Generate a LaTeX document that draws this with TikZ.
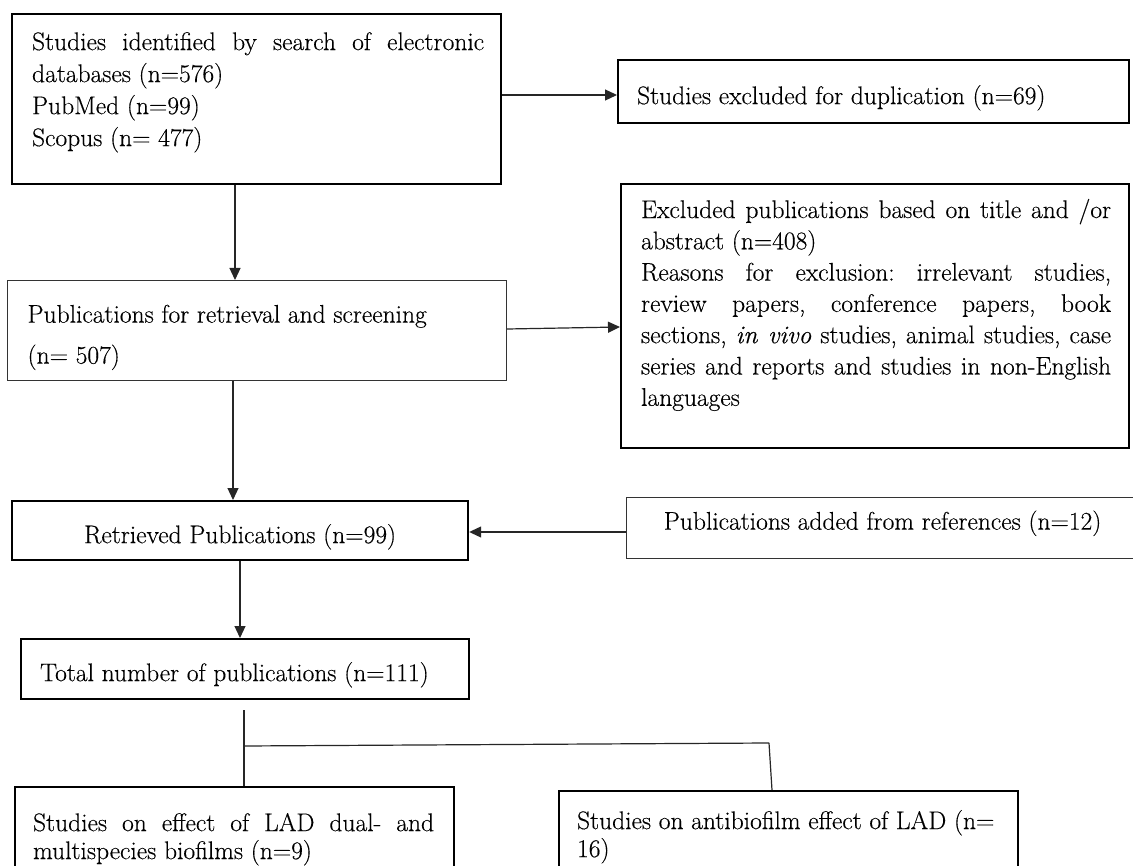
\documentclass[tikz,border=0pt]{standalone}
\usepackage{fontspec}
\setmainfont{Latin Modern Roman}[FakeBold=0.3]
\usetikzlibrary{arrows.meta}
% #1 width, #2 height, #3 leftskip, #4 rightskip, #5 top space, #6 text, #7 baselineskip
\newcommand{\bxtext}[7]{\parbox[c][#2][t]{#1}{\fontsize{25.5pt}{#7}\selectfont\frenchspacing\parindent=0pt\leftskip=#3\relax\rightskip=#4\relax\vspace*{#5}\strut #6\par}}
\begin{document}
\begin{tikzpicture}[x=1pt,y=-1pt,
  boxthick/.style={draw=black,line width=2.2pt,inner sep=0pt,anchor=north west},
  boxthin/.style={draw=black!80,line width=1.2pt,inner sep=0pt,anchor=north west},
  conn/.style={draw=black!85,line width=1.2pt},
  arr/.style={conn,-{Triangle[width=11pt,length=12pt]}}]
\useasboundingbox (0,0) rectangle (1133,866);
\fill[white] (0,0) rectangle (1133,866);
\clip (0,0) rectangle (1133,866);

\node[boxthick] (b1) at (11,13) {\bxtext{489pt}{170pt}{20pt}{17pt}{13.6pt}{Studies identified by search of electronic\linebreak databases (n=576)\\ PubMed (n=99)\\ Scopus (n=~477)}{32pt}};

\node[boxthick] (b2) at (617,59) {\bxtext{511pt}{63pt}{19pt}{0pt plus 1fil}{22pt}{Studies excluded for duplication (n=69)}{31.5pt}};

\node[boxthin] (b3) at (7,280) {\bxtext{499pt}{100pt}{20pt}{0pt plus 1fil}{20pt}{Publications for retrieval and screening\\[9.5pt] (n=~507)}{31.5pt}};

\node[boxthick] (b4) at (620,183) {\bxtext{508pt}{264pt}{20pt}{18pt}{12pt}{Excluded publications based on title and /or\linebreak abstract (n=408)\\ Reasons for exclusion: irrelevant studies,\linebreak review papers, conference papers, book\linebreak sections, \textit{in vivo} studies, animal studies, case\linebreak series and reports and studies in non-English\linebreak languages}{31.3pt}};

\node[boxthick] (b5) at (11,500) {\bxtext{456pt}{59pt}{0pt}{0pt}{20pt}{\centering Retrieved Publications (n=99)}{31.5pt}};

\node[boxthin] (b6) at (626,497) {\bxtext{512pt}{61pt}{0pt}{0pt}{10pt}{\centering Publications added from references (n=12)}{31.5pt}};

\node[boxthick] (b7) at (20,638) {\bxtext{448pt}{60pt}{19pt}{0pt plus 1fil}{20pt}{Total number of publications (n=111)}{31.5pt}};

\node[boxthick] (b8) at (14,786) {\bxtext{439pt}{100pt}{18pt}{20pt}{24.4pt}{Studies on effect of LAD dual- and\linebreak multispecies biofilms (n=9)}{28pt}};

\node[boxthick] (b9) at (558,790) {\bxtext{459pt}{100pt}{18pt}{0pt plus 1fil}{18.4pt}{Studies on antibiofilm effect of LAD (n=\\ 16)}{28pt}};

\coordinate (y95) at (0,95);
\coordinate (x235) at (235,0);
\coordinate (y329) at (0,329);
\coordinate (y327) at (0,327);
\coordinate (x233) at (233,0);
\coordinate (y532) at (0,532);
\coordinate (x240) at (240,0);
\coordinate (j) at (244,746);
\coordinate (k) at (769,743);
\coordinate (x772) at (772,0);

\draw[arr] (b1.east |- y95) -- (b2.west |- y95);
\draw[arr] (b1.south -| x235) -- (b3.north -| x235);
\draw[arr] (b3.east |- y329) -- (b4.west |- y327);
\draw[arr] (b3.south -| x233) -- (b5.north -| x233);
\draw[arr] (b6.west |- y532) -- (b5.east |- y532);
\draw[arr] (b5.south -| x240) -- (b7.north -| x240);
\draw[conn,shorten <=10pt] (b7.south -| j) -- (j);
\draw[conn] (j) -- (k);
\draw[conn] (j) -- (b8.north -| j);
\draw[conn] (k) -- (b9.north -| x772);
\end{tikzpicture}
\end{document}
